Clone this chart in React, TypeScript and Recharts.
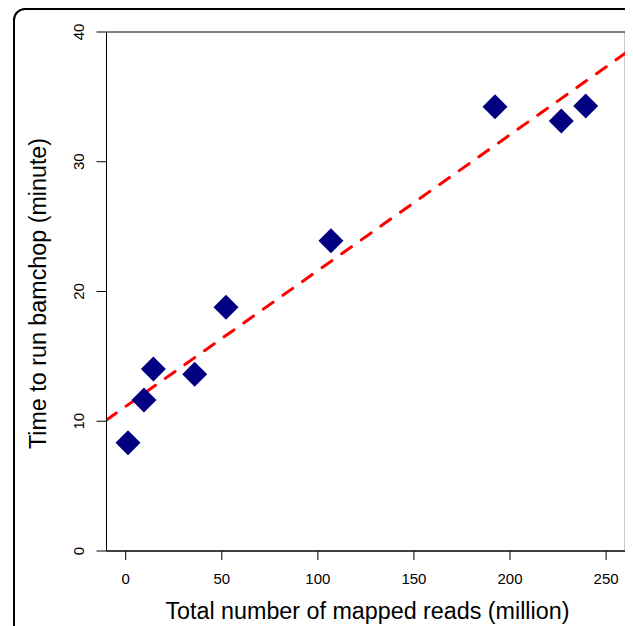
import React from "react";
import { ComposedChart, Scatter, Line, XAxis, YAxis, ReferenceArea } from "recharts";

const readsMillion = [1.2, 9.5, 14.4, 35.9, 52.2, 106.8, 192.2, 226.7, 239.4];
const runMinutes = [8.35, 11.64, 14.03, 13.62, 18.78, 23.92, 34.24, 33.14, 34.3];
const fitX = [-10, 260];
const fitY = [10.1, 38.36];
const xTicks = [0, 50, 100, 150, 200, 250];
const yTicks = [0, 10, 20, 30, 40];
const xTitle = "Total number of mapped reads (million)";
const yTitle = "Time to run bamchop (minute)";

const points = readsMillion.map((x, i) => ({ x, y: runMinutes[i] }));
const fitLine = fitX.map((x, i) => ({ x, y: fitY[i] }));

const FONT = "'Liberation Sans', Arial, Helvetica, sans-serif";

const Diamond = (props: any) => {
  const { cx, cy } = props;
  if (cx == null || cy == null) return null;
  const r = 12.5;
  return (
    <polygon
      points={`${cx},${cy - r} ${cx + r},${cy} ${cx},${cy + r} ${cx - r},${cy}`}
      fill="#000080"
    />
  );
};

const XTick = (props: any) => {
  const { x, payload } = props;
  return (
    <text x={x} y={576} textAnchor="middle" fontSize={15} fontFamily={FONT} fill="#000">
      {payload.value}
    </text>
  );
};

const YTick = (props: any) => {
  const { y, payload } = props;
  const bx = 75.5;
  return (
    <text
      x={bx}
      y={y}
      transform={`rotate(-90, ${bx}, ${y})`}
      textAnchor="middle"
      fontSize={15}
      fontFamily={FONT}
      fill="#000"
    >
      {payload.value}
    </text>
  );
};

const XTitle = (props: any) => {
  const vb = props.viewBox || { x: 98.5, y: 543, width: 518.8 };
  const cx = vb.x + vb.width / 2 + 1.5;
  return (
    <text x={cx} y={610.5} textAnchor="middle" fontSize={23.3} fontFamily={FONT} fill="#000">
      {xTitle}
    </text>
  );
};

const YTitle = (props: any) => {
  const vb = props.viewBox || { x: 0, y: 24, height: 519 };
  const cy = vb.y + vb.height / 2 + 2;
  const bx = 38;
  return (
    <text
      x={bx}
      y={cy}
      transform={`rotate(-90, ${bx}, ${cy})`}
      textAnchor="middle"
      fontSize={23.3}
      fontFamily={FONT}
      fill="#000"
    >
      {yTitle}
    </text>
  );
};

export default function App() {
  return (
    <div style={{ position: "relative", width: 625, height: 618, overflow: "hidden", background: "#fff" }}>
      <div
        style={{
          position: "absolute",
          left: 5,
          top: 0,
          width: 800,
          height: 800,
          border: "2px solid #000",
          borderRadius: 12,
          boxSizing: "border-box",
        }}
      />
      <div style={{ position: "absolute", left: 0, top: 0 }}>
        <ComposedChart
          width={625}
          height={618}
          margin={{ top: 24, right: 7.7, bottom: 0, left: 0 }}
        >
          <XAxis
            dataKey="x"
            type="number"
            domain={[-10, 260]}
            ticks={xTicks}
            allowDataOverflow
            height={75}
            tickSize={9}
            axisLine={{ stroke: "#000", strokeWidth: 1 }}
            tickLine={{ stroke: "#000", strokeWidth: 1 }}
            tick={<XTick />}
            interval={0}
            label={{ content: (p: any) => <XTitle {...p} /> }}
          />
          <YAxis
            dataKey="y"
            type="number"
            domain={[0, 40]}
            ticks={yTicks}
            allowDataOverflow
            width={98.5}
            tickSize={10}
            axisLine={{ stroke: "#000", strokeWidth: 1 }}
            tickLine={{ stroke: "#000", strokeWidth: 1 }}
            tick={<YTick />}
            interval={0}
            label={{ content: (p: any) => <YTitle {...p} /> }}
          />
          <ReferenceArea
            x1={-10}
            x2={260}
            y1={0}
            y2={40}
            fill="none"
            fillOpacity={0}
            stroke="#000"
            strokeWidth={1}
            strokeOpacity={1}
            ifOverflow="visible"
          />
          <Scatter data={points} dataKey="y" shape={<Diamond />} isAnimationActive={false} />
          <Line
            data={fitLine}
            dataKey="y"
            type="linear"
            stroke="#ff0000"
            strokeWidth={3}
            strokeDasharray="12 12"
            strokeLinecap="round"
            dot={false}
            activeDot={false}
            isAnimationActive={false}
          />
        </ComposedChart>
      </div>
    </div>
  );
}
